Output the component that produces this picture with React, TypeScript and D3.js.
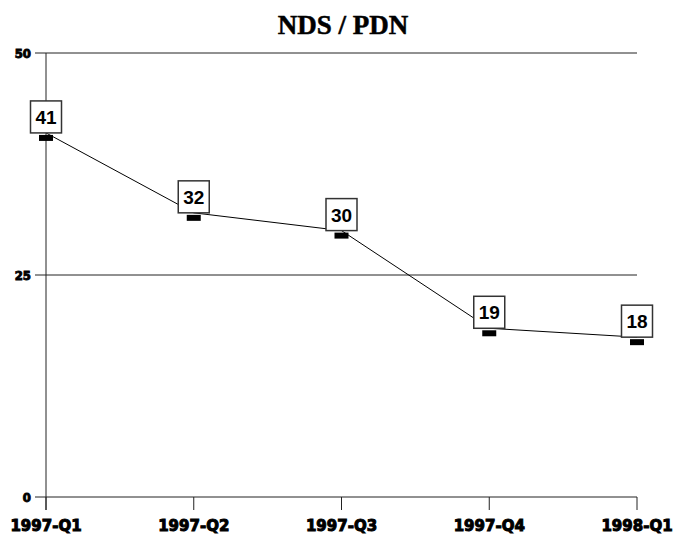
import React from "react";
import * as d3 from "d3";

const quarters = ["1997-Q1", "1997-Q2", "1997-Q3", "1997-Q4", "1998-Q1"];
const values = [41, 32, 30, 19, 18];
const yTicks = [0, 25, 50];
const gridTicks = [25, 50];

const W = 676;
const H = 538;

export default function App() {
  const x = d3.scalePoint<string>().domain(quarters).range([46, 637]);
  const y = d3.scaleLinear().domain([0, 50]).range([497, 53]);

  const line = d3
    .line<number>()
    .x((d, i) => x(quarters[i]) as number)
    .y((d) => y(d));

  const data = values.map((v, i) => ({ q: quarters[i], v }));

  return (
    <svg
      width={W}
      height={H}
      style={{ position: "absolute", left: 0, top: 0, background: "#fff" }}
    >
      <text
        x={343}
        y={34}
        textAnchor="middle"
        fontFamily="'Liberation Serif', serif"
        fontWeight="bold"
        fontSize={27}
        stroke="#000"
        strokeWidth={0.5}
      >
        NDS / PDN
      </text>

      {/* gridlines */}
      {gridTicks.map((t) => (
        <line key={t} x1={46} x2={637} y1={y(t)} y2={y(t)} stroke="#222" strokeWidth={1} />
      ))}

      {/* axes */}
      <line x1={46} x2={46} y1={y(50)} y2={510} stroke="#222" strokeWidth={1} />
      <line x1={46} x2={637} y1={y(0)} y2={y(0)} stroke="#222" strokeWidth={1} />

      {yTicks.map((t) => (
        <g key={t}>
          <line x1={35} x2={46} y1={y(t)} y2={y(t)} stroke="#222" />
          <text
            x={31}
            y={y(t) + 5}
            textAnchor="end"
            fontFamily="'DejaVu Sans Condensed', 'DejaVu Sans', sans-serif"
            fontWeight="bold"
            fontSize={13}
            stroke="#000"
            strokeWidth={0.9}
          >
            {t}
          </text>
        </g>
      ))}

      {quarters.map((q) => (
        <g key={q}>
          <line x1={x(q)} x2={x(q)} y1={y(0)} y2={510} stroke="#222" />
          <text
            x={x(q)}
            y={531}
            textAnchor="middle"
            fontFamily="'DejaVu Sans', sans-serif"
            fontWeight="bold"
            fontSize={15}
            stroke="#000"
            strokeWidth={1}
          >
            {q}
          </text>
        </g>
      ))}

      <path d={line(values) || ""} fill="none" stroke="#000" strokeWidth={1} />

      {data.map((d) => {
        const cx = x(d.q) as number;
        const cy = y(d.v);
        return (
          <g key={d.q}>
            <rect x={cx - 7} y={cy + 2} width={14} height={6} fill="#000" />
            <rect
              x={cx - 15.5}
              y={cy - 32}
              width={31}
              height={32}
              fill="#fff"
              stroke="#333"
              strokeWidth={1.5}
            />
            <text
              x={cx}
              y={cy - 9}
              textAnchor="middle"
              fontFamily="'Liberation Sans', Arial, sans-serif"
              fontWeight="bold"
              fontSize={19}
            >
              {d.v}
            </text>
          </g>
        );
      })}
    </svg>
  );
}
